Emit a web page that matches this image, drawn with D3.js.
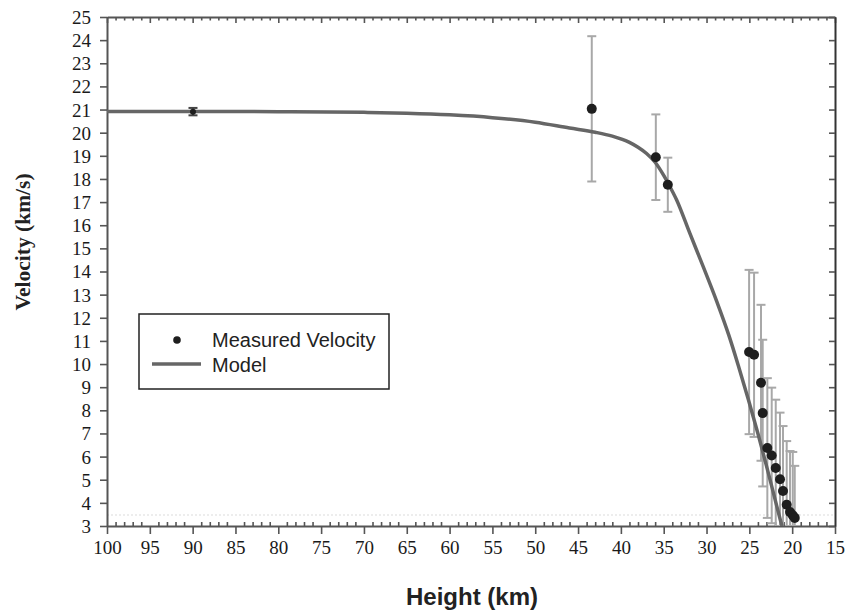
<!DOCTYPE html>
<html><head><meta charset="utf-8">
<script src="https://cdn.jsdelivr.net/npm/d3@7"></script>
<style>
html,body{margin:0;padding:0;background:#fff;}
svg{display:block;}
</style></head>
<body>
<svg id="chart" width="848" height="612"></svg>
<script>
// ---- data ----
const measuredHeight   = [89.96, 43.4, 35.92, 34.52, 25.03, 24.45, 23.64, 23.44, 22.9, 22.39, 21.92, 21.42, 21.07, 20.64, 20.25, 19.93, 19.7];
const measuredVelocity = [20.91, 21.03, 18.94, 17.75, 10.52, 10.40, 9.19, 7.88, 6.37, 6.05, 5.51, 5.02, 4.51, 3.92, 3.60, 3.46, 3.35];
const velocityError    = [0.16, 3.14, 1.85, 1.17, 3.55, 3.55, 3.37, 3.17, 3.02, 2.93, 2.95, 2.88, 2.81, 2.75, 2.64, 2.74, 2.25];

const modelHeight   = [100, 90, 80, 70, 65, 60, 55, 50, 46, 43, 41, 39, 38, 37, 36, 35, 34.5, 33.5, 32, 30.4, 28.8, 27.4, 26.3, 25.1, 24, 23, 22, 21.3, 20.8];
const modelVelocity = [20.92, 20.92, 20.91, 20.88, 20.84, 20.77, 20.65, 20.45, 20.2, 20.02, 19.85, 19.58, 19.37, 19.1, 18.72, 18.15, 17.82, 17.1, 15.7, 14.22, 12.7, 11.25, 9.95, 8.45, 7.0, 5.6, 4.15, 3.15, 2.5];

const xTicks = [100, 95, 90, 85, 80, 75, 70, 65, 60, 55, 50, 45, 40, 35, 30, 25, 20, 15];
const yTicks = [3,4,5,6,7,8,9,10,11,12,13,14,15,16,17,18,19,20,21,22,23,24,25];
const xLabel = "Height (km)";
const yLabel = "Velocity (km/s)";
const legendLabels = ["Measured Velocity", "Model"];

// ---- layout ----
const svg = d3.select("#chart");
const L = 107, R = 835, T = 17, B = 526;
const x = d3.scaleLinear().domain([100, 15]).range([L, R]);
const y = d3.scaleLinear().domain([3, 25]).range([B, T]);
const axisColor = "#555";
const serif = "'Liberation Serif','Times New Roman',Times,serif";
const sans = "'Liberation Sans',Arial,Helvetica,sans-serif";

svg.append("defs").append("clipPath").attr("id","plotclip")
  .append("rect").attr("x", L).attr("y", T).attr("width", R - L).attr("height", B - T);

// faint dotted line near bottom
svg.append("line").attr("x1", L).attr("x2", R).attr("y1", B - 11).attr("y2", B - 11)
  .attr("stroke", "#e8e8e8").attr("stroke-width", 1.5).attr("stroke-dasharray", "2,2");

const minorX = d3.range(100, 14, -1).filter(v => v % 5 !== 0);

function styleAxis(g) {
  g.attr("font-family", null).attr("font-size", null);
  g.selectAll("path.domain").attr("stroke", axisColor).attr("stroke-width", 2);
  g.selectAll(".tick line").attr("stroke", axisColor).attr("stroke-width", 1.6);
  g.selectAll(".tick text").attr("fill", "#1a1a1a")
    .style("font-family", serif).style("font-size", "19px");
}

// bottom axis majors (outward)
const gb = svg.append("g").attr("transform", `translate(0,${B})`)
  .call(d3.axisBottom(x).tickValues(xTicks).tickSize(8).tickSizeOuter(0).tickPadding(7).tickFormat(d3.format("d")));
styleAxis(gb);
// bottom minors (inward)
const gbm = svg.append("g").attr("transform", `translate(0,${B})`)
  .call(d3.axisBottom(x).tickValues(minorX).tickSize(-4).tickSizeOuter(0).tickFormat(""));
styleAxis(gbm);
gbm.select("path.domain").remove();

// top axis (inward ticks)
const gt = svg.append("g").attr("transform", `translate(0,${T})`)
  .call(d3.axisTop(x).tickValues(xTicks).tickSize(-6).tickSizeOuter(0).tickFormat(""));
styleAxis(gt);
const gtm = svg.append("g").attr("transform", `translate(0,${T})`)
  .call(d3.axisTop(x).tickValues(minorX).tickSize(-3.5).tickSizeOuter(0).tickFormat(""));
styleAxis(gtm);
gtm.select("path.domain").remove();

// left axis
const gl = svg.append("g").attr("transform", `translate(${L},0)`)
  .call(d3.axisLeft(y).tickValues(yTicks).tickSize(7).tickSizeOuter(0).tickPadding(9).tickFormat(d3.format("d")));
styleAxis(gl);
gl.selectAll(".tick text").attr("dy", "0.34em");

// right axis (inward)
const gr = svg.append("g").attr("transform", `translate(${R},0)`)
  .call(d3.axisRight(y).tickValues(yTicks).tickSize(-6).tickSizeOuter(0).tickFormat(""));
styleAxis(gr);
gr.select("path.domain").attr("stroke", "#333");

// ---- plot content ----
const plot = svg.append("g").attr("clip-path", "url(#plotclip)");
const pts = measuredHeight.map((h, i) => ({h, v: measuredVelocity[i], e: velocityError[i]}));

// error bars
const eb = plot.append("g").attr("fill", "none");
pts.forEach((p, i) => {
  const cx = x(p.h), y1 = y(p.v + p.e), y0 = y(p.v - p.e);
  const col = i === 0 ? "#444" : "#a8a8a8";
  eb.append("line").attr("x1", cx).attr("x2", cx).attr("y1", y1).attr("y2", y0).attr("stroke", col).attr("stroke-width", 2);
  eb.append("line").attr("x1", cx - 4.5).attr("x2", cx + 4.5).attr("y1", y1).attr("y2", y1).attr("stroke", col).attr("stroke-width", 2);
  eb.append("line").attr("x1", cx - 4.5).attr("x2", cx + 4.5).attr("y1", y0).attr("y2", y0).attr("stroke", col).attr("stroke-width", 2);
});

// model curve
const model = modelHeight.map((h, i) => [h, modelVelocity[i]]);
plot.append("path").datum(model)
  .attr("d", d3.line().x(d => x(d[0])).y(d => y(d[1])).curve(d3.curveMonotoneX))
  .attr("fill", "none").attr("stroke", "#666").attr("stroke-width", 3.5);

// measured dots
plot.append("g").selectAll("circle").data(pts).join("circle")
  .attr("cx", d => x(d.h)).attr("cy", d => y(d.v)).attr("r", (d, i) => i === 0 ? 3 : 5).attr("fill", "#1e1e1e");

// ---- legend ----
const lg = svg.append("g");
lg.append("rect").attr("x", 139).attr("y", 314).attr("width", 250).attr("height", 75)
  .attr("fill", "#fff").attr("stroke", "#222").attr("stroke-width", 1.5);
lg.append("circle").attr("cx", 177).attr("cy", 340).attr("r", 3.8).attr("fill", "#1e1e1e");
lg.append("line").attr("x1", 152).attr("x2", 201).attr("y1", 364).attr("y2", 364)
  .attr("stroke", "#666").attr("stroke-width", 3.5);
lg.append("text").attr("x", 212).attr("y", 346.5).text(legendLabels[0])
  .attr("font-family", sans).attr("font-size", 20).attr("fill", "#222");
lg.append("text").attr("x", 212).attr("y", 371.5).text(legendLabels[1])
  .attr("font-family", sans).attr("font-size", 20).attr("fill", "#222");

// ---- axis titles ----
svg.append("text").attr("x", 472).attr("y", 605).attr("text-anchor", "middle")
  .attr("font-family", sans).attr("font-weight", "bold").attr("font-size", 24).attr("fill", "#222")
  .text(xLabel);
svg.append("text").attr("transform", "translate(30,242) rotate(-90)").attr("text-anchor", "middle")
  .attr("font-family", serif).attr("font-weight", "bold").attr("font-size", 21.5).attr("fill", "#222")
  .text(yLabel);
</script>
</body></html>
